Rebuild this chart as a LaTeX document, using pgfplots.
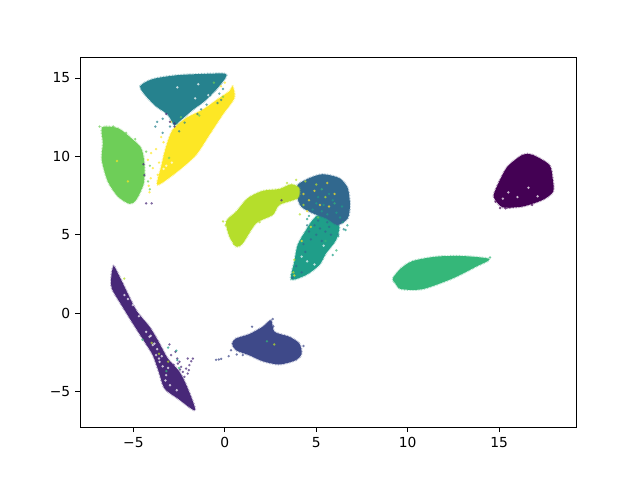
\documentclass[border=0pt]{standalone}
\usepackage{fontspec}
\setmainfont{DejaVu Sans}
\usepackage{pgfplots}
\pgfplotsset{compat=1.18}
\definecolor{c0}{HTML}{440154}
\definecolor{c1}{HTML}{482878}
\definecolor{c2}{HTML}{3E4989}
\definecolor{c3}{HTML}{31688E}
\definecolor{c4}{HTML}{26828E}
\definecolor{c5}{HTML}{1F9E89}
\definecolor{c6}{HTML}{35B779}
\definecolor{c7}{HTML}{6ECE58}
\definecolor{c8}{HTML}{B5DE2B}
\definecolor{c9}{HTML}{FDE725}
\pgfplotsset{
  blob/.style={fill=#1, draw=#1, draw opacity=0.45, line width=1.5pt, dash pattern=on 0.5pt off 0.6pt, smooth cycle, tension=0.45, mark=none, forget plot},
  pts/.style={only marks, mark=*, mark size=0.7pt, color=#1, opacity=0.55, mark options={draw=none, fill=#1}, forget plot},
}
\begin{document}
\begin{tikzpicture}
\path[use as bounding box] (-0.8in,-0.528in) rectangle (5.6in,4.272in);
\begin{axis}[
    at={(0,0)}, anchor=south west,
    scale only axis,
    width=4.96in, height=3.696in,
    xmin=-7.92, xmax=19.2,
    ymin=-7.28, ymax=16.3,
    xtick={-5,0,5,10,15}, xticklabels={−5,0,5,10,15},
    ytick={-5,0,5,10,15}, yticklabels={−5,0,5,10,15},
    tick align=outside, tick pos=left,
    major tick length=3.5pt,
    every tick/.style={black, line width=0.6pt},
    axis line style={line width=0.6pt},
    tick label style={font=\fontsize{10}{12}\selectfont},
    clip=true,
]
% class 0
\addplot[blob=c0] coordinates {(14.73,7.65)(15.00,8.39)(15.46,9.35)(16.28,10.10)(16.82,10.10)(17.74,9.46)(17.92,8.61)(17.95,7.75)(17.37,7.22)(16.28,6.80)(15.19,6.75)(14.73,7.33)};
% class 1
\addplot[blob=c1] coordinates {(-6.09,3.00)(-5.94,2.75)(-5.58,1.90)(-4.85,0.19)(-4.12,-0.87)(-3.67,-1.73)(-3.12,-2.90)(-2.48,-3.75)(-2.03,-4.81)(-1.63,-6.20)(-2.57,-5.45)(-3.30,-4.81)(-3.61,-3.75)(-3.94,-2.68)(-4.39,-1.83)(-5.03,-0.66)(-5.65,0.51)(-6.18,1.58)(-6.20,2.43)};
% class 2
\addplot[blob=c2] coordinates {(0.40,-1.94)(0.61,-1.62)(1.34,-1.34)(2.07,-0.87)(2.53,-0.45)(2.71,-1.19)(3.53,-1.51)(4.07,-1.94)(4.20,-2.58)(3.89,-3.00)(2.98,-3.28)(2.07,-3.07)(1.34,-2.69)(0.61,-2.37)};
% class 5
\addplot[blob=c5] coordinates {(4.80,5.94)(5.17,6.26)(5.90,5.94)(6.26,5.52)(6.08,4.66)(5.53,3.81)(5.17,3.07)(4.44,2.43)(3.62,2.15)(3.80,3.28)(3.98,4.35)(4.44,5.30)};
% class 3
\addplot[blob=c3] coordinates {(3.98,8.18)(4.62,8.61)(5.35,8.86)(6.26,8.61)(6.72,7.97)(6.84,6.90)(6.72,6.05)(6.17,5.62)(5.53,6.05)(4.80,6.37)(4.17,6.80)(3.93,7.54)};
% class 4
\addplot[blob=c4] coordinates {(-4.63,14.47)(-3.94,14.93)(-2.67,15.17)(-1.39,15.25)(-0.02,15.28)(0.03,15.00)(-0.48,14.25)(-1.12,13.51)(-1.75,12.97)(-2.48,12.23)(-2.76,11.97)(-3.12,12.66)(-3.76,13.19)(-4.30,13.83)};
% class 6
\addplot[blob=c6] coordinates {(9.18,2.21)(9.63,2.85)(10.27,3.32)(11.54,3.60)(13.00,3.64)(14.46,3.45)(13.73,2.96)(12.45,2.21)(10.82,1.53)(9.63,1.53)(9.32,1.90)};
% class 7
\addplot[blob=c7] coordinates {(-6.71,11.85)(-5.85,11.80)(-5.12,11.16)(-4.58,10.53)(-4.40,9.57)(-4.43,8.29)(-4.85,7.22)(-5.21,6.97)(-5.85,7.44)(-6.40,8.40)(-6.73,9.78)(-6.67,10.85)};
% class 8
\addplot[blob=c8] coordinates {(0.07,5.84)(0.62,6.47)(1.25,7.33)(2.07,7.80)(2.98,7.92)(3.62,8.22)(4.07,7.97)(3.98,7.33)(2.98,6.90)(2.62,6.26)(1.71,5.73)(0.98,4.45)(0.62,4.24)(0.25,4.88)};
% class 9
\addplot[blob=c9] coordinates {(0.43,14.47)(0.52,13.72)(-0.12,12.66)(-0.84,11.38)(-1.57,10.10)(-2.48,9.14)(-3.67,8.18)(-3.48,9.35)(-3.21,10.63)(-2.85,11.70)(-2.12,12.44)(-1.21,12.98)(-0.30,13.72)(0.25,14.15)};
% white gaps inside the clouds
\addplot[pts=white] coordinates {(-4.12,-1.51)(-3.94,-2.04)(-3.76,-2.68)(-3.57,-3.11)(-3.21,-3.96)(-2.63,-4.92)(-5.49,1.15)(-5.03,0.51)(-4.30,-1.20)(-3.60,-2.90)(-3.40,-3.40)(-3.10,-3.50)(-5.30,0.90)(-4.70,-0.20)(-3.85,-1.95)(-3.45,-2.75)(-1.62,13.70)(-2.60,14.40)(-1.45,14.60)(-0.90,13.90)(4.50,3.30)(4.90,3.10)(4.20,3.60)(5.40,4.30)(16.00,7.40)(15.50,7.70)(15.20,7.30)(16.60,8.00)(17.10,7.45)(-2.90,9.60)(-3.20,9.40)(-3.35,9.20)(-3.25,-4.30)(-3.00,-4.60)(-4.05,-1.45)(-3.70,-2.30)};
% strays of each class
\addplot[pts=c9] coordinates {(-3.76,10.46)(-3.48,11.23)(-4.03,10.21)(-4.21,9.78)(-3.94,9.25)(-4.16,8.12)(-4.12,7.71)(-3.67,8.82)(-0.21,14.47)(0.00,14.70)(-3.35,10.90)(-3.30,10.05)(-3.60,9.60)(-2.95,12.20)(-4.05,8.60)(-5.90,9.70)(-5.30,8.40)(4.60,7.20)(4.90,7.80)(5.20,6.90)(4.30,7.60)(6.00,7.60)(5.70,6.80)(4.20,4.60)(3.80,2.40)(4.70,5.50)(4.50,6.50)(5.60,8.30)};
\addplot[pts=c8] coordinates {(3.40,8.30)(3.90,8.50)(3.20,7.40)(2.80,7.00)(2.40,6.40)(-0.10,5.85)(0.05,5.60)(0.50,4.40)(1.00,4.80)(4.10,6.30)(4.30,6.90)(5.00,8.20)(3.80,3.40)(3.75,2.60)(4.40,8.40)(5.50,7.40)(1.90,5.80)};
\addplot[pts=c7] coordinates {(-4.30,10.30)(-4.10,9.40)(-4.20,8.40)(-4.10,7.90)(-6.85,11.90)(-6.10,11.90)(-5.40,11.50)(-4.90,11.10)(-0.60,14.70)(-0.10,13.80)(-2.40,12.50)(-1.40,12.60)(-3.05,9.90)(5.10,6.10)};
\addplot[pts=c4] coordinates {(-0.30,14.00)(-0.55,14.50)(-0.20,13.60)(-0.80,13.90)(-0.40,13.40)(-1.00,13.30)(-1.50,12.70)(-2.20,12.15)(-3.40,12.40)(-3.00,11.90)(-3.80,11.90)(-3.70,12.20)(-2.50,11.60)(-0.10,14.30)(-1.30,13.00)(6.20,5.00)(6.50,5.35)(4.50,5.60)(-3.40,11.50)};
\addplot[pts=c1] coordinates {(-3.03,-2.00)(-2.70,-2.47)(-2.48,-3.11)(-2.03,-2.90)(-1.75,-2.90)(-1.94,-3.32)(-2.30,-3.75)(-2.03,-3.86)(-2.57,-3.22)(-2.94,-2.68)(-2.21,-4.07)(-2.39,-3.43)(-1.84,-3.07)(-1.97,-3.64)(-2.12,-3.54)(-2.60,-2.90)(-2.45,-3.60)(-2.80,-3.30)(-4.40,8.80)(-4.30,7.00)(-4.00,7.00)(-4.45,9.50)(-3.00,12.20)(-3.20,12.70)(-2.75,11.90)(-2.75,12.10)(3.10,7.20)};
\addplot[pts=c2] coordinates {(-0.48,-2.98)(-0.33,-2.96)(-0.20,-2.92)(0.21,-2.75)(0.34,-2.37)(0.65,-2.64)(0.98,-2.68)(1.49,-0.87)(2.62,-0.38)(2.45,-0.55)(2.65,-0.85)(4.30,-2.10)};
\addplot[pts=c0] coordinates {(15.05,6.70)(15.35,6.68)(15.55,6.75)(14.80,7.10)(15.00,7.10)(15.90,6.85)(16.80,6.90)(14.95,7.50)};
\addplot[pts=c5] coordinates {(6.60,5.30)(6.20,4.90)(6.00,5.25)(5.80,4.40)(4.50,6.00)(5.90,3.70)(6.70,5.60)(5.00,7.00)(5.70,7.60)(-2.60,-3.00)(-3.10,-2.20)(-2.65,-2.40)(4.80,6.60)(5.30,6.50)(5.60,6.30)(6.10,6.40)(5.40,6.90)(5.90,7.20)(4.60,6.20)(6.30,6.10)(6.45,5.80)(5.10,7.40)(6.40,6.80)};
\addplot[pts=c3] coordinates {(5.50,5.20)(5.20,5.40)(4.70,4.70)(4.40,3.90)(3.90,3.00)(3.70,2.25)(4.20,2.60)(5.70,5.50)(4.90,5.60)(5.80,5.00)(5.00,5.00)(4.60,5.20)(5.30,4.60)(4.30,4.40)(5.60,5.80)(5.10,5.90)};
\addplot[pts=c6] coordinates {(-2.50,-3.50)(-3.20,-3.70)(-4.50,-1.70)(14.50,3.55)(2.30,-1.80)(5.50,4.60)(6.10,4.00)(5.30,7.90)(6.00,7.00)};
\addplot[pts=c8] coordinates {(-3.60,-2.60)(-4.00,-1.90)(-5.50,2.20)(-3.10,-3.10)(2.70,-2.00)};
\end{axis}
\end{tikzpicture}
\end{document}
